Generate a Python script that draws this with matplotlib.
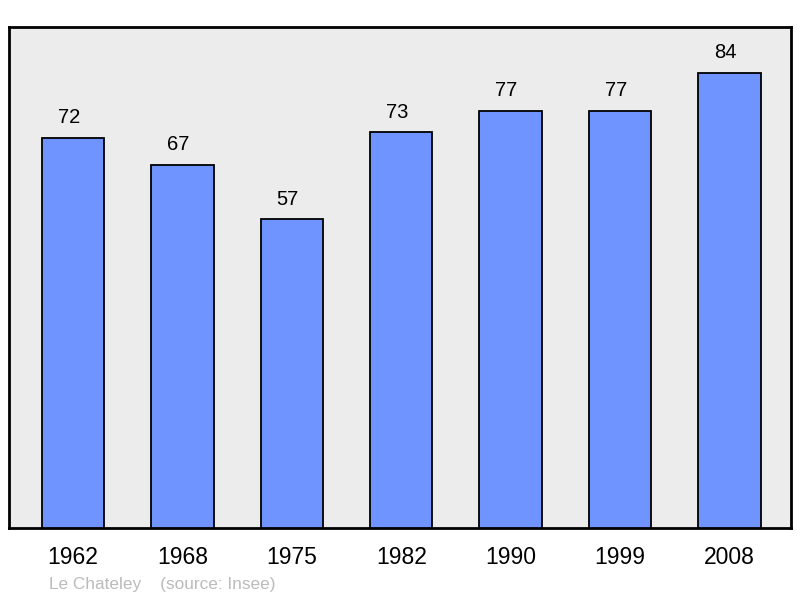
import matplotlib.pyplot as plt

years = ["1962", "1968", "1975", "1982", "1990", "1999", "2008"]
population = [72, 67, 57, 73, 77, 77, 84]

plt.rcParams['font.family'] = ['Liberation Sans', 'DejaVu Sans']

fig = plt.figure(figsize=(8, 5.98), dpi=100)
ax = fig.add_axes([9/800, 1 - 528/598, 782/800, 501/598])
ax.set_facecolor('#ececec')

x = range(len(years))
ax.bar(x, population, width=0.57, color='#7094ff', edgecolor='black', linewidth=1.3, zorder=3)

for i, v in enumerate(population):
    ax.annotate(str(v), (i, v), xytext=(-3, 7.5), textcoords='offset points',
                ha='center', va='bottom', fontsize=14.5)

ax.set_xlim(-0.585, 6.562)
ax.set_ylim(0, 92.4)
ax.set_yticks([])
ax.set_xticks(list(x))
ax.set_xticklabels(years, fontsize=16.5)
ax.tick_params(axis='x', length=0, pad=13)
for s in ax.spines.values():
    s.set_linewidth(2)
    s.set_color('black')

fig.text(49/800, 1 - 585/598, "Le Chateley    (source: Insee)", fontsize=12.4,
         color='#bbbbbb', ha='left', va='center')

fig.savefig('out.png', dpi=100)
